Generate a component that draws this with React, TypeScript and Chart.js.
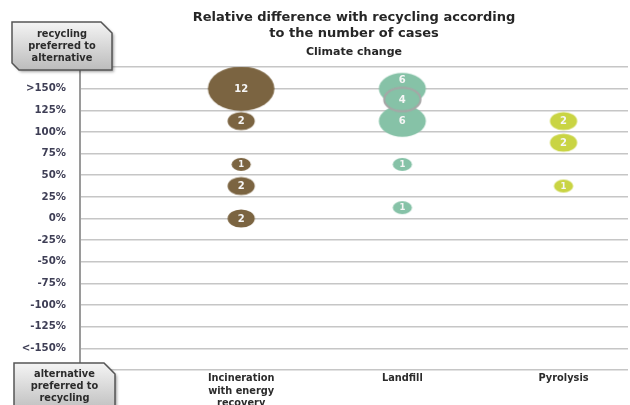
import { useEffect, useRef } from 'react';
import { Chart, registerables } from 'chart.js';

Chart.register(...registerables);

// ---------- data ----------
const categories: string[][] = [['Incineration', 'with energy', 'recovery'], ['Landfill'], ['Pyrolysis']];
const categoryPositions = [1, 2, 3];

const incinerationValues = [150, 112.5, 62.5, 37.5, 0];
const incinerationCounts = [12, 2, 1, 2, 2];

const landfillValues = [150, 112.5, 137.5, 62.5, 12.5];
const landfillCounts = [6, 6, 4, 1, 1];

const pyrolysisValues = [112.5, 87.5, 37.5];
const pyrolysisCounts = [2, 2, 1];

const yTickValues = [-175, -150, -125, -100, -75, -50, -25, 0, 25, 50, 75, 100, 125, 150, 175];
const yTickLabels = ['', '<-150%', '-125%', '-100%', '-75%', '-50%', '-25%', '0%', '25%', '50%', '75%', '100%', '125%', '>150%', ''];

const titleLines = ['Relative difference with recycling according', 'to the number of cases'];
const subtitleText = 'Climate change';
const topBoxLines = ['recycling', 'preferred to', 'alternative'];
const bottomBoxLines = ['alternative', 'preferred to', 'recycling'];

// ---------- styles ----------
const FONT = "'DejaVu Sans', sans-serif";
const colors = ['#7b6441', '#86c2a7', '#c9d443'];
const ASPECT = 1.5;
const radiusFor = (n: number) => 9.6 * Math.sqrt(n);

const ellipseCache: Record<string, HTMLCanvasElement> = {};
function ellipseCanvas(n: number, fill: string, ring: boolean): HTMLCanvasElement {
  const key = `${n}-${fill}-${ring}`;
  if (ellipseCache[key]) return ellipseCache[key];
  const rx = radiusFor(n);
  const ry = rx / ASPECT;
  const c = document.createElement('canvas');
  c.width = Math.ceil(rx * 2 + 4);
  c.height = Math.ceil(ry * 2 + 4);
  const g = c.getContext('2d')!;
  g.beginPath();
  g.ellipse(c.width / 2, c.height / 2, ring ? rx - 1 : rx, ring ? ry - 1 : ry, 0, 0, Math.PI * 2);
  g.fillStyle = fill;
  g.fill();
  if (ring) {
    g.lineWidth = 2;
    g.strokeStyle = '#a6a6a6';
    g.stroke();
  }
  ellipseCache[key] = c;
  return c;
}

function buildData(xPos: number, values: number[], counts: number[]) {
  return values.map((v, i) => ({ x: xPos, y: v, r: radiusFor(counts[i]), n: counts[i] }));
}

function snipBox(ctx: CanvasRenderingContext2D, x: number, y: number, w: number, h: number, snip: number, snipBL: number) {
  ctx.beginPath();
  ctx.moveTo(x, y);
  ctx.lineTo(x + w - snip, y);
  ctx.lineTo(x + w, y + snip);
  ctx.lineTo(x + w, y + h);
  ctx.lineTo(x + snipBL, y + h);
  ctx.lineTo(x, y + h - snipBL);
  ctx.closePath();
}

function drawCornerBox(ctx: CanvasRenderingContext2D, x: number, y: number, w: number, h: number, snipBL: number, lines: string[], firstLineY: number) {
  ctx.save();
  const grad = ctx.createLinearGradient(0, y, 0, y + h);
  grad.addColorStop(0, '#f4f4f4');
  grad.addColorStop(1, '#bcbcbc');
  ctx.shadowColor = 'rgba(0,0,0,0.35)';
  ctx.shadowBlur = 3;
  ctx.shadowOffsetX = 2;
  ctx.shadowOffsetY = 2;
  snipBox(ctx, x, y, w, h, 11, snipBL);
  ctx.fillStyle = grad;
  ctx.fill();
  ctx.shadowColor = 'transparent';
  ctx.lineWidth = 1.5;
  ctx.strokeStyle = '#555555';
  ctx.stroke();
  ctx.fillStyle = '#2b2b2b';
  ctx.font = `bold 9.8px ${FONT}`;
  ctx.textAlign = 'center';
  ctx.textBaseline = 'middle';
  lines.forEach((t, i) => ctx.fillText(t, x + w / 2, firstLineY + i * 12));
  ctx.restore();
}

const bubbleLabels = {
  id: 'bubbleLabels',
  afterDatasetsDraw(chart: any) {
    const ctx: CanvasRenderingContext2D = chart.ctx;
    ctx.save();
    ctx.textAlign = 'center';
    ctx.textBaseline = 'middle';
    ctx.fillStyle = '#f6f6f6';
    chart.data.datasets.forEach((ds: any, di: number) => {
      const meta = chart.getDatasetMeta(di);
      meta.data.forEach((el: any, i: number) => {
        const raw = ds.data[i];
        const ry = radiusFor(raw.n) / ASPECT;
        let y = el.y;
        for (let j = i + 1; j < meta.data.length; j++) {
          const o = meta.data[j];
          const orx = radiusFor(ds.data[j].n);
          const ory = orx / ASPECT;
          if (Math.abs(o.x - el.x) < orx && Math.abs(o.y - el.y) < ory) {
            y = (el.y - ry + (o.y - ory)) / 2;
          }
        }
        ctx.font = `bold ${raw.n === 1 ? 8.5 : 10}px ${FONT}`;
        ctx.fillText(String(raw.n), el.x, y + 0.5);
      });
    });
    ctx.restore();
  },
};

const cornerBoxes = {
  id: 'cornerBoxes',
  afterDraw(chart: any) {
    const ctx: CanvasRenderingContext2D = chart.ctx;
    drawCornerBox(ctx, 12, 22, 100, 48, 7, topBoxLines, 34);
    drawCornerBox(ctx, 14, 363, 101, 50, 0, bottomBoxLines, 374);
  },
};

export default function App() {
  const ref = useRef<HTMLCanvasElement | null>(null);

  useEffect(() => {
    if (!ref.current) return;
    const chart = new Chart(ref.current, {
      type: 'bubble',
      data: {
        datasets: [
          { label: 'Incineration', data: buildData(categoryPositions[0], incinerationValues, incinerationCounts), backgroundColor: colors[0] },
          { label: 'Landfill', data: buildData(categoryPositions[1], landfillValues, landfillCounts), backgroundColor: colors[1] },
          { label: 'Pyrolysis', data: buildData(categoryPositions[2], pyrolysisValues, pyrolysisCounts), backgroundColor: colors[2] },
        ] as any,
      },
      options: {
        responsive: false,
        animation: false,
        events: [],
        layout: { autoPadding: false, padding: { right: 2, left: 0, top: 0, bottom: 0 } },
        elements: {
          point: {
            pointStyle: (c: any) => {
              const raw = c.raw;
              if (!raw) return 'circle';
              return ellipseCanvas(raw.n, colors[c.datasetIndex], c.datasetIndex === 1 && raw.n === 4);
            },
          } as any,
        },
        plugins: {
          legend: { display: false },
          tooltip: { enabled: false },
          title: {
            display: true,
            text: titleLines,
            fullSize: false,
            color: '#262626',
            font: { family: FONT, weight: 'bold', size: 13, lineHeight: 1.2 },
            padding: { top: 10, bottom: 4.2 },
          },
          subtitle: {
            display: true,
            text: subtitleText,
            fullSize: false,
            color: '#262626',
            font: { family: FONT, weight: 'bold', size: 11, lineHeight: 1.2 },
            padding: { top: 0, bottom: 8.4 },
          },
        },
        scales: {
          x: {
            type: 'linear',
            min: 0,
            max: 3.4,
            grid: { display: false, drawTicks: false },
            border: { display: false },
            afterBuildTicks: (s: any) => {
              s.ticks = categoryPositions.map((v) => ({ value: v }));
            },
            afterFit: (s: any) => {
              s.height = 35;
            },
            ticks: {
              autoSkip: false,
              maxRotation: 0,
              padding: 2,
              color: '#2b2b2b',
              font: { family: FONT, weight: 'bold', size: 9.8, lineHeight: 1.3 },
              callback: (v: any) => {
                const i = categoryPositions.indexOf(Number(v));
                return i >= 0 ? categories[i] : '';
              },
            },
          },
          y: {
            type: 'linear',
            min: -175,
            max: 175,
            afterBuildTicks: (s: any) => {
              s.ticks = yTickValues.map((v) => ({ value: v }));
            },
            afterFit: (s: any) => {
              s.width = 80;
            },
            grid: { color: '#c6c6c6', lineWidth: 1.5, drawTicks: false },
            border: { display: true, color: '#9a9a9a', width: 2 },
            ticks: {
              padding: 14,
              color: '#3e3e55',
              font: { family: FONT, weight: 'bold', size: 10.2 },
              callback: (v: any) => {
                const i = yTickValues.indexOf(Number(v));
                return i >= 0 ? yTickLabels[i] : '';
              },
            },
          },
        },
      } as any,
      plugins: [bubbleLabels, cornerBoxes],
    });
    return () => chart.destroy();
  }, []);

  return (
    <div style={{ position: 'fixed', left: 0, top: 0, width: 630, height: 405, background: '#fff' }}>
      <canvas ref={ref} width={630} height={405} style={{ display: 'block' }} />
    </div>
  );
}
